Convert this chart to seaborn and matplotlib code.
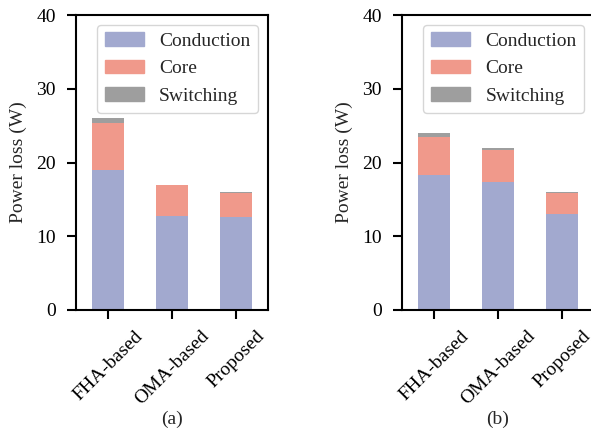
import numpy as np
import pandas as pd
import matplotlib
matplotlib.use("Agg")
import matplotlib.pyplot as plt
import seaborn as sns
from matplotlib.patches import Patch

# ---- data (W) ----
methods = ["FHA-based", "OMA-based", "Proposed"]
cond_a = [19.0, 12.8, 12.6]
core_a = [6.4, 4.1, 3.3]
sw_a = [0.6, 0.1, 0.1]
cond_b = [18.3, 17.4, 13.0]
core_b = [5.1, 4.3, 2.9]
sw_b = [0.6, 0.3, 0.1]
panel_labels = ["(a)", "(b)"]

c_cond = "#a2a9cf"
c_core = "#f0998b"
c_sw = "#9e9e9e"

sns.set_style("ticks")
plt.rcParams["font.family"] = ["Liberation Serif", "DejaVu Serif"]
plt.rcParams["font.size"] = 14
plt.rcParams["axes.linewidth"] = 1.5
plt.rcParams["xtick.major.width"] = 1.5
plt.rcParams["ytick.major.width"] = 1.5
plt.rcParams["xtick.major.size"] = 6.5
plt.rcParams["ytick.major.size"] = 6.5
plt.rcParams["xtick.color"] = "black"
plt.rcParams["ytick.color"] = "black"
plt.rcParams["axes.edgecolor"] = "black"

fig = plt.figure(figsize=(5.91, 4.36), dpi=100)
ax_a = fig.add_axes([76 / 591, 1 - 310 / 436, 192 / 591, 295 / 436])
ax_b = fig.add_axes([402 / 591, 1 - 310 / 436, 192 / 591, 295 / 436])

for ax, cond, core, sw, lab in [(ax_a, cond_a, core_a, sw_a, panel_labels[0]),
                                (ax_b, cond_b, core_b, sw_b, panel_labels[1])]:
    df = pd.DataFrame({"method": methods, "cond": cond, "core": core, "sw": sw})
    df["cc"] = df["cond"] + df["core"]
    df["total"] = df["cc"] + df["sw"]
    # stacked look: draw totals first, then overlay the lower parts
    for col, c in [("total", c_sw), ("cc", c_core), ("cond", c_cond)]:
        sns.barplot(data=df, x="method", y=col, color=c, width=0.5,
                    saturation=1, linewidth=0, edgecolor="none", ax=ax)
    ax.set_ylim(0, 40)
    ax.set_yticks([0, 10, 20, 30, 40])
    ax.set_xlim(-0.5, 2.5)
    ax.set_xlabel(lab, fontsize=14, labelpad=2)
    ax.set_ylabel("Power loss (W)", fontsize=14, labelpad=7)
    ax.tick_params(axis="y", labelsize=14, pad=8)
    ax.tick_params(axis="x", labelsize=14, pad=6)
    plt.setp(ax.get_xticklabels(), rotation=45, ha="center")
    handles = [Patch(color=c_cond, label="Conduction"),
               Patch(color=c_core, label="Core"),
               Patch(color=c_sw, label="Switching")]
    ax.legend(handles=handles, loc="upper right", fontsize=14)

fig.savefig("out.png", dpi=100)
